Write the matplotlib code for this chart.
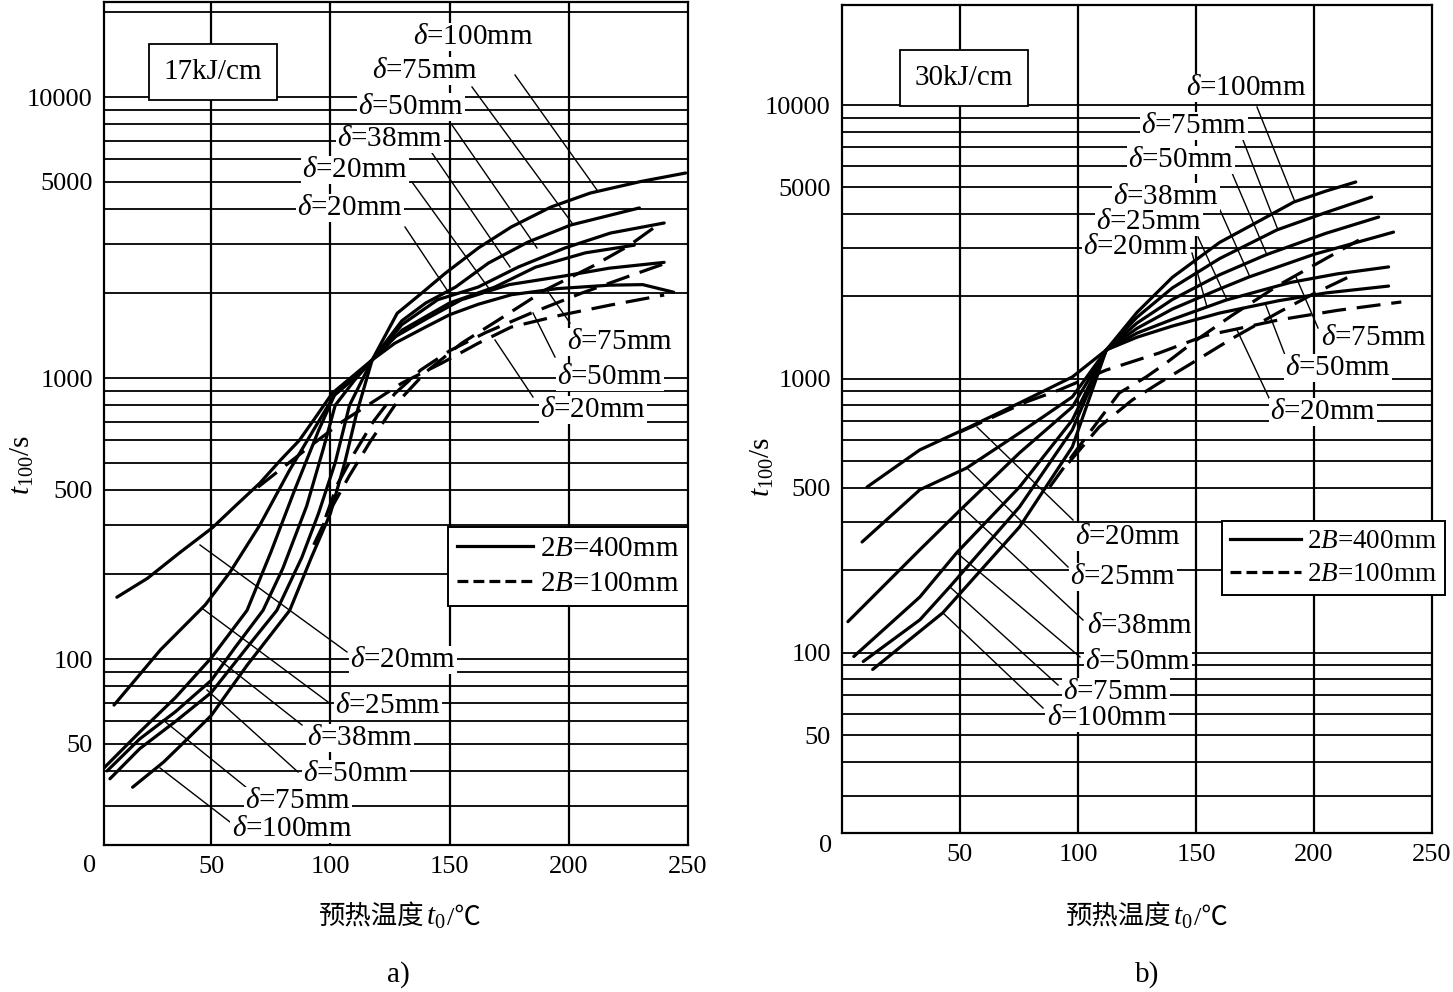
import matplotlib
matplotlib.use('Agg')
import matplotlib.pyplot as plt
from matplotlib.lines import Line2D
from matplotlib.offsetbox import TextArea, HPacker, AnnotationBbox

plt.rcParams['font.family'] = ['Liberation Serif', 'Noto Sans CJK SC']
plt.rcParams['mathtext.fontset'] = 'custom'
plt.rcParams['mathtext.rm'] = 'Liberation Serif'
plt.rcParams['mathtext.it'] = 'Liberation Serif:italic'

# ---- panel a) 17kJ/cm, 2B=400mm (solid) ----
a20_T = [10.4, 23.3, 37, 50.4, 60, 70.4, 79, 87, 94, 100.8, 109, 117.5, 127, 140, 150, 162, 176, 195, 217, 231, 244]
a20_t = [166, 194, 240, 293, 350, 423, 510, 601, 730, 884, 1010, 1160, 1330, 1520, 1680, 1830, 1980, 2080, 2140, 2150, 2020]
a25_T = [9.2, 28.75, 47.5, 57.9, 70.4, 82.9, 95.4, 101.7, 110, 117.5, 127, 140, 155, 175, 197, 217, 240]
a25_t = [68.6, 108, 156, 204, 300, 471, 709, 870, 1000, 1160, 1400, 1620, 1900, 2150, 2300, 2460, 2580]
a38_T = [5, 20, 35, 50, 65, 75, 85, 95, 101.7, 110, 117.5, 130, 150, 169, 186, 207, 227.5]
a38_t = [41, 55, 73, 101, 149, 240, 400, 650, 870, 1000, 1160, 1480, 1850, 2108, 2480, 2790, 2970]
a50_T = [6.3, 20, 35, 50, 60, 71.7, 80, 90, 97, 102, 110, 117.5, 130, 145, 162, 178.8, 198.3, 217.5, 240]
a50_t = [40, 52, 65, 84, 110, 149, 210, 350, 560, 800, 980, 1160, 1550, 1900, 2108, 2483, 2901, 3281, 3562]
a75_T = [7.5, 20, 35, 50, 65, 77.5, 88, 95, 102, 108, 117.5, 130, 140, 152.5, 166.3, 182.9, 200.8, 229.6]
a75_t = [37.5, 48, 60, 76, 110, 149, 230, 330, 500, 800, 1160, 1600, 1850, 2108, 2566, 3048, 3503, 4030]
a100_T = [17, 30, 40, 50, 65, 82.9, 92, 100, 106, 111, 117.5, 128, 138.3, 148.3, 162, 175.8, 192.5, 209, 230, 249]
a100_t = [35, 43, 52, 63, 95, 149, 230, 330, 500, 750, 1160, 1700, 2006, 2364, 2901, 3446, 4060, 4553, 5000, 5365]
# 2B=100mm (dashed)
ad20_T = [69.6, 80, 91, 105, 119, 130, 146.7, 162, 175.8, 196.7, 217.5, 240]
ad20_t = [409, 480, 568, 700, 835, 960, 1130, 1330, 1518, 1675, 1819, 1974]
ad50_T = [98, 103, 110, 118, 127, 138, 150, 165, 184, 205, 225, 240]
ad50_t = [320, 420, 540, 700, 880, 1070, 1250, 1450, 1700, 2000, 2300, 2550]
ad75_T = [93, 100, 108, 117, 127, 140, 155, 170, 190, 210, 225, 238]
ad75_t = [255, 340, 450, 600, 800, 1050, 1330, 1600, 2055, 2500, 2950, 3540]

# ---- panel b) 30kJ/cm ----
b20_T = [10.6, 33, 54, 75.2, 97.6, 112, 125, 140, 160, 185, 205, 231.6]
b20_t = [403, 551, 668, 817, 1017, 1276, 1420, 1560, 1740, 1930, 2060, 2183]
b25_T = [8.5, 33, 52.8, 75.2, 97.6, 112, 125, 140, 162.7, 190, 210, 231.6]
b25_t = [254, 394, 473, 635, 860, 1276, 1470, 1650, 1940, 2250, 2420, 2564]
b38_T = [2.5, 33, 51, 75.2, 97.6, 112, 125, 140, 160, 172.4, 200, 233.7]
b38_t = [130, 238, 338, 537, 790, 1276, 1530, 1800, 2130, 2355, 2850, 3436]
b50_T = [5, 33, 48.6, 75.2, 97.6, 112, 125, 140, 160, 179.6, 205, 227.4]
b50_t = [97, 160, 232, 403, 708, 1276, 1600, 1950, 2400, 2838, 3400, 3900]
b75_T = [9, 33, 45.6, 75.2, 97.6, 112, 125, 140, 160, 184.3, 205, 224.4]
b75_t = [93, 132, 174, 341, 652, 1276, 1680, 2150, 2750, 3500, 4050, 4613]
b100_T = [13, 42.7, 75.2, 97.6, 112, 125, 140, 160, 175, 191.5, 205, 217.7]
b100_t = [87, 140, 288, 565, 1276, 1750, 2350, 3150, 3700, 4426, 4850, 5236]
bd20_T = [50, 78.2, 92.1, 112, 134.4, 154, 167, 185, 210, 237]
bd20_t = [640, 825, 912, 1078, 1244, 1440, 1520, 1642, 1780, 1910]
bd50_T = [96, 109, 123, 134.4, 148.4, 165, 185, 200, 214.7]
bd50_t = [494, 668, 838, 967, 1144, 1400, 1750, 2050, 2356]
bd75_T = [88, 100, 117.5, 128.9, 137.4, 148.4, 165, 185, 205, 219]
bd75_t = [403, 560, 889, 1017, 1144, 1353, 1700, 2200, 2750, 3213]

a_grid_y = [30, 40, 50, 60, 70, 80, 90, 100, 200, 300, 400, 500, 600, 700, 800, 900,
            1000, 2000, 3000, 4000, 5000, 6000, 7000, 8000, 9000, 10000, 20000]
b_grid_y = a_grid_y[:-1]
grid_x = [50, 100, 150, 200]
yticks = [50, 100, 400, 1000, 5000, 10000]
ytick_labels = ['50', '100', '500', '1000', '5000', '10000']
xticks = [50, 100, 150, 200, 250]

W, H = 1453, 992
fig = plt.figure(figsize=(W / 100, H / 100), dpi=100)
ax_a = fig.add_axes([104 / W, 1 - 845 / H, 584 / W, 843 / H])
ax_b = fig.add_axes([842 / W, 1 - 833 / H, 590 / W, 828 / H])

FS = 19
LFS = 21
dash = (0, (7.5, 3.4))


def setup(ax, xlim, ylim, gy):
    ax.set_yscale('log')
    ax.set_xlim(*xlim)
    ax.set_ylim(*ylim)
    for v in gy:
        ax.axhline(v, color='black', lw=1.3, zorder=1)
    for v in grid_x:
        ax.axvline(v, color='black', lw=1.6, zorder=1)
    ax.set_yticks(yticks)
    ax.set_yticklabels(ytick_labels)
    ax.set_yticks([], minor=True)
    ax.set_xticks(xticks)
    ax.set_xticklabels([str(v) for v in xticks])
    ax.tick_params(length=0, labelsize=FS, pad=8)
    for s in ax.spines.values():
        s.set_linewidth(1.6)


setup(ax_a, (5, 250), (21.8, 21780), a_grid_y)
setup(ax_b, (0, 250), (22.0, 23180), b_grid_y)

lw = 2.3
for T, t in [(a20_T, a20_t), (a25_T, a25_t), (a38_T, a38_t), (a50_T, a50_t),
             (a75_T, a75_t), (a100_T, a100_t)]:
    ax_a.plot(T, t, color='black', lw=lw, zorder=3, solid_capstyle='round')
for T, t in [(ad20_T, ad20_t), (ad50_T, ad50_t), (ad75_T, ad75_t)]:
    ax_a.plot(T, t, color='black', lw=lw, ls=dash, zorder=3)
for T, t in [(b20_T, b20_t), (b25_T, b25_t), (b38_T, b38_t), (b50_T, b50_t),
             (b75_T, b75_t), (b100_T, b100_t)]:
    ax_b.plot(T, t, color='black', lw=lw, zorder=3, solid_capstyle='round')
for T, t in [(bd20_T, bd20_t), (bd50_T, bd50_t), (bd75_T, bd75_t)]:
    ax_b.plot(T, t, color='black', lw=lw, ls=dash, zorder=3)

# legends
handles = [Line2D([], [], color='black', lw=2.3),
           Line2D([], [], color='black', lw=2.3, ls=(0, (3.4, 1.6)))]
names = [r'2$B$=400mm', r'2$B$=100mm']
for ax, anchor, loc, fs in [(ax_a, (688 / W, 1 - 527 / H), 'upper right', LFS),
                            (ax_b, (1222 / W, 1 - 521 / H), 'upper left', 19.5)]:
    leg = ax.legend(handles, names, loc=loc, bbox_to_anchor=anchor,
                    bbox_transform=fig.transFigure, borderaxespad=0,
                    fancybox=False, framealpha=1, edgecolor='black',
                    fontsize=fs, handlelength=2.6, handletextpad=0.25,
                    labelspacing=0.3, borderpad=0.3)
    leg.get_frame().set_linewidth(1.4)
    leg.set_zorder(6)


def fx(px):
    return px / W


def fy(py):
    return 1 - py / H


d = r'$\delta$'
labels_a = [
    (d + '=100mm', (473, 37), (515, 75), (597, 190)),
    (d + '=75mm', (425, 71), (472, 87), (572, 223)),
    (d + '=50mm', (411, 107), (452, 125), (537, 248)),
    (d + '=38mm', (390, 139), (432, 153), (510, 267)),
    (d + '=20mm', (355, 170), (412, 182), (490, 290)),
    (d + '=20mm', (350, 208), (405, 227), (447, 290)),
    (d + '=75mm', (620, 342), (570, 323), (547, 290)),
    (d + '=50mm', (610, 377), (555, 357), (533, 313)),
    (d + '=20mm', (593, 410), (533, 397), (495, 340)),
    (d + '=20mm', (403, 660), (347, 652), (200, 545)),
    (d + '=25mm', (388, 706), (328, 702), (203, 609)),
    (d + '=38mm', (360, 738), (302, 725), (217, 658)),
    (d + '=50mm', (356, 774), (298, 772), (207, 690)),
    (d + '=75mm', (298, 801), (247, 788), (163, 720)),
    (d + '=100mm', (292, 829), (230, 822), (160, 768)),
]
labels_b = [
    (d + '=100mm', (1246, 88), (1257, 107), (1295, 202)),
    (d + '=75mm', (1194, 126), (1243, 140), (1278, 230)),
    (d + '=50mm', (1181, 160), (1232, 173), (1267, 255)),
    (d + '=38mm', (1166, 197), (1220, 210), (1250, 277)),
    (d + '=25mm', (1149, 222), (1198, 237), (1227, 300)),
    (d + '=20mm', (1136, 247), (1192, 253), (1207, 307)),
    (d + '=75mm', (1374, 338), (1318, 328), (1296, 277)),
    (d + '=50mm', (1338, 368), (1285, 355), (1265, 303)),
    (d + '=20mm', (1323, 412), (1270, 400), (1237, 330)),
    (d + '=20mm', (1128, 537), (1073, 520), (977, 427)),
    (d + '=25mm', (1123, 577), (1068, 567), (967, 468)),
    (d + '=38mm', (1140, 626), (1083, 620), (963, 508)),
    (d + '=50mm', (1138, 662), (1080, 657), (957, 553)),
    (d + '=75mm', (1116, 692), (1058, 685), (950, 587)),
    (d + '=100mm', (1107, 718), (1043, 708), (943, 613)),
]
for txt, c, p0, p1 in labels_a + labels_b:
    fig.add_artist(Line2D([fx(p0[0]), fx(p1[0])], [fy(p0[1]), fy(p1[1])],
                          transform=fig.transFigure, color='black', lw=1.0, zorder=2))
    fig.text(fx(c[0]), fy(c[1]), txt, ha='center', va='center', fontsize=LFS,
             bbox=dict(fc='white', ec='none', pad=1.0), zorder=4)

# heat input boxes
for txt, c in [('17kJ/cm', (213, 72)), ('30kJ/cm', (964, 78))]:
    fig.text(fx(c[0]), fy(c[1]), txt, ha='center', va='center', fontsize=LFS,
             bbox=dict(boxstyle='square,pad=0.5', fc='white', ec='black', lw=1.3), zorder=5)

fig.text(fx(90), fy(866), '0', ha='center', va='center', fontsize=FS)
fig.text(fx(826), fy(846), '0', ha='center', va='center', fontsize=FS)

for cx, cy in [(22, 465), (762, 467)]:
    fig.text(fx(cx), fy(cy), r'$t_{\mathrm{100}}$/s', rotation=90,
             ha='center', va='center', fontsize=LFS)

# x axis titles: Chinese part, italic t0, unit
for cx in [400, 1147]:
    parts = [TextArea('预热温度', textprops=dict(fontsize=FS, family='Noto Sans CJK SC')),
             TextArea(r'$t_0$', textprops=dict(fontsize=LFS)),
             TextArea('/℃', textprops=dict(fontsize=FS,
                                           family=['Liberation Serif', 'Noto Sans CJK SC']))]
    box = HPacker(children=parts, align='baseline', pad=0, sep=1)
    fig.add_artist(AnnotationBbox(box, (fx(cx), fy(917)), xycoords='figure fraction',
                                  frameon=False, box_alignment=(0.5, 0.5)))

fig.text(fx(398), fy(975), 'a)', ha='center', va='center', fontsize=LFS)
fig.text(fx(1147), fy(975), 'b)', ha='center', va='center', fontsize=LFS)

fig.savefig('out.png', dpi=100, facecolor='white')
